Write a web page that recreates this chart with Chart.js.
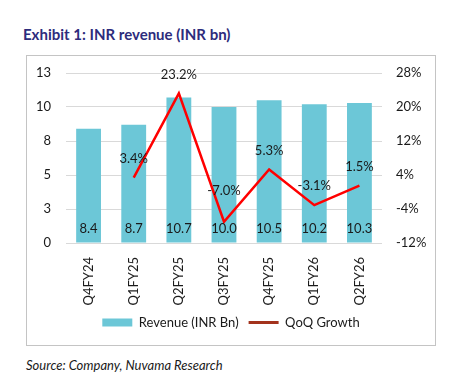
<!DOCTYPE html>
<html>
<head>
<meta charset="utf-8">
<script src="https://cdn.jsdelivr.net/npm/chart.js@4"></script>
<style>
  body { margin: 0; background: #fff; width: 450px; height: 373px; overflow: hidden; position: relative; font-family: Lato, "Open Sans", sans-serif; }
  #title { position: absolute; left: 23px; top: 25px; font-size: 15px; font-weight: bold; color: #2d2c7c; white-space: nowrap; }
  #box { position: absolute; left: 26px; top: 55px; width: 410px; height: 291px; box-sizing: border-box; border: 1px solid #c4c4c4; }
  #box canvas { position: absolute; left: 0; top: 0; }
  #source { position: absolute; left: 26px; top: 357px; font-size: 13px; line-height: 16px; font-style: italic; color: #1a1a1a; white-space: nowrap; }
</style>
</head>
<body>
<div id="title">Exhibit 1: INR revenue (INR bn)</div>
<div id="box"><canvas id="myChart" width="408" height="289"></canvas></div>
<div id="source">Source: Company, Nuvama Research</div>
<script>
const quarters = ["Q4FY24", "Q1FY25", "Q2FY25", "Q3FY25", "Q4FY25", "Q1FY26", "Q2FY26"];
const revenue = [8.4, 8.7, 10.7, 10.0, 10.5, 10.2, 10.3];
const qoqGrowth = [null, 3.4, 23.2, -7.0, 5.3, -3.1, 1.5];
const leftTicks = ["0", "3", "5", "8", "10", "13"];
const rightTicks = ["-12%", "-4%", "4%", "12%", "20%", "28%"];

// labels on bars (near the base) and above the line points
const valueLabels = {
  id: "valueLabels",
  afterDatasetsDraw(chart) {
    const ctx = chart.ctx;
    ctx.save();
    ctx.font = "13px Lato";
    ctx.fillStyle = "#1a1a1a";
    ctx.textAlign = "center";
    ctx.textBaseline = "middle";
    const base = chart.scales.y.getPixelForValue(0);
    chart.getDatasetMeta(0).data.forEach((bar, i) => {
      ctx.fillText(revenue[i].toFixed(1), bar.x, base - 14);
    });
    chart.getDatasetMeta(1).data.forEach((pt, i) => {
      if (qoqGrowth[i] === null) return;
      const off = i === 3 ? 31 : 19;
      ctx.fillText(qoqGrowth[i].toFixed(1) + "%", pt.x, pt.y - off);
    });
    ctx.restore();
  },
};

// keep the tick padding from pushing the plot area down
function fixAxis(width) {
  return (scale) => {
    scale.width = width;
    scale.paddingTop = 8;
    scale.paddingBottom = 8;
  };
}

Chart.defaults.font.family = "Lato";
Chart.defaults.font.size = 13;
Chart.defaults.color = "#1a1a1a";

const canvas = document.getElementById("myChart");
new Chart(canvas, {
  type: "bar",
  data: {
    labels: quarters,
    datasets: [
      {
        label: "Revenue (INR Bn)",
        data: revenue,
        backgroundColor: "#6cc7d7",
        categoryPercentage: 1,
        barPercentage: 0.55,
        yAxisID: "y",
        order: 2,
      },
      {
        type: "line",
        label: "QoQ Growth",
        data: qoqGrowth,
        borderColor: "#ff0000",
        borderWidth: 2.5,
        pointRadius: 0,
        tension: 0,
        yAxisID: "y1",
        order: 1,
      },
    ],
  },
  plugins: [valueLabels],
  options: {
    responsive: false,
    animation: false,
    layout: { padding: { top: 17, bottom: 6, left: 0, right: 0 } },
    plugins: {
      tooltip: { enabled: false },
      legend: {
        position: "bottom",
        labels: {
          usePointStyle: true,
          pointStyleWidth: 30,
          boxHeight: 8,
          padding: 10,
          font: { size: 13 },
          sort: (a, b) => a.datasetIndex - b.datasetIndex,
          generateLabels(chart) {
            const items = Chart.defaults.plugins.legend.labels.generateLabels(chart);
            items.forEach((item) => {
              if (item.datasetIndex === 0) {
                item.pointStyle = "rect";
                item.fillStyle = "#6cc7d7";
                item.strokeStyle = "#6cc7d7";
              } else {
                item.pointStyle = "line";
                item.strokeStyle = "#a3331d";
                item.lineWidth = 3;
              }
            });
            return items;
          },
        },
      },
    },
    scales: {
      x: {
        grid: { display: false },
        border: { display: false },
        ticks: { minRotation: 90, maxRotation: 90, padding: 6 },
        afterFit(scale) { scale.height = 63; },
      },
      y: {
        position: "left",
        min: 0,
        max: 12.5,
        grid: { color: "#d9d9d9", drawTicks: false },
        border: { display: false },
        ticks: {
          stepSize: 2.5,
          padding: 15,
          callback: (v, i) => leftTicks[i],
        },
        afterFit: fixAxis(39),
      },
      y1: {
        position: "right",
        min: -12,
        max: 28,
        grid: { display: false, drawTicks: false },
        border: { display: false },
        ticks: {
          stepSize: 8,
          padding: 14,
          callback: (v, i) => rightTicks[i],
        },
        afterFit: fixAxis(53),
      },
    },
  },
});
</script>
</body>
</html>
